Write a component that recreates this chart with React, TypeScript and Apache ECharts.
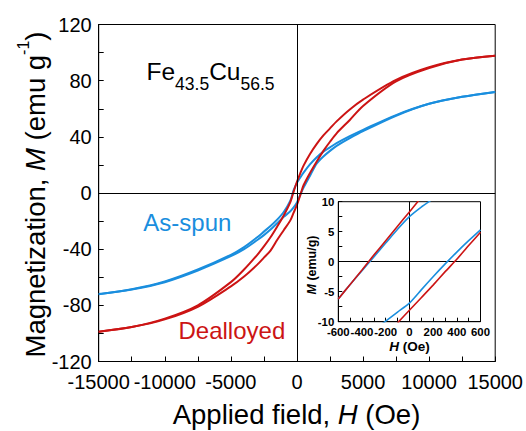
import React, { useEffect, useRef } from "react";
import * as echarts from "echarts";

// Main hysteresis loops (applied field in Oe, magnetization in emu/g)
const mainFields = [-15000, -12500, -10000, -7500, -5000, -4000, -3000, -2500, -2000, -1500, -1000, -500, -250, 0, 250, 500, 1000, 1500, 2000, 2500, 3000, 4000, 5000, 7500, 10000, 12500, 15000];
const dealloyedDown = [-98.8, -95.5, -89.5, -80, -63.5, -54.5, -44, -38, -31.5, -24, -16, -6.5, 1, 8, 14, 19.5, 28, 35, 41, 46, 51, 59.5, 66.5, 80.5, 89.5, 95, 97.8];
const dealloyedUp = [-98.8, -95.5, -90, -81, -66.5, -59.5, -51, -46, -41, -33.5, -26.5, -19.5, -14, -8.5, -1.5, 5.5, 14.5, 22.5, 30, 36.5, 42.5, 52, 62, 79.5, 89, 95, 97.8];
const asSpunDown = [-72, -68.5, -63, -54.5, -44, -38.5, -31.5, -27.5, -23.5, -19, -13.5, -5.5, 2, 7.2, 11, 14.5, 20.5, 25.5, 29.5, 32.5, 35.5, 40.5, 45, 55.5, 63.5, 68.5, 72];
const asSpunUp = [-72.2, -68.8, -63.5, -55.2, -45, -40, -33.5, -30, -26, -21.5, -17, -13, -10.3, -6.7, -1.3, 3.8, 12.5, 21, 26, 30, 33.5, 39, 44, 55, 63.5, 68.5, 72];

// Inset (low-field region)
const insetFields = [-600, -500, -400, -300, -200, -100, 0, 100, 200, 300, 400, 500, 600];
const insetRedDown = [-6.2, -3.8, -1.4, 1.1, 3.5, 5.9, 8.3, 10.7, null, null, null, null, null];
const insetRedUp = [null, null, null, null, null, -10.2, -8.1, -6.0, -3.9, -1.7, 0.4, 2.7, 4.9];
const insetBlueDown = [-6.2, -3.8, -1.5, 0.8, 3.1, 5.4, 7.5, 9.1, 10.5, null, null, null, null];
const insetBlueUp = [null, null, null, -11.4, -9.9, -8.4, -6.9, -4.7, -2.5, -0.4, 1.6, 3.5, 5.3];

const RED = "#cc1414";
const BLUE = "#1a8ede";
const FONT = "'Liberation Sans', Arial, Helvetica, sans-serif";

function pairs(xs: number[], ys: (number | null)[]) {
  const out: number[][] = [];
  xs.forEach((x, i) => {
    const y = ys[i];
    if (y !== null && y !== undefined) out.push([x, y]);
  });
  return out;
}

const zeroLines = {
  silent: true,
  symbol: ["none", "none"],
  label: { show: false },
  lineStyle: { color: "#000", width: 1, type: "solid" },
  emphasis: { disabled: true },
  data: [{ xAxis: 0 }, { yAxis: 0 }],
};

export default function App() {
  const ref = useRef<HTMLDivElement>(null);
  useEffect(() => {
    const chart = echarts.init(ref.current!, null, { renderer: "svg" });
    const axisCommon = (fontSize: number, bold: boolean, margin: number, tickLen: number, minorLen: number) => ({
      type: "value",
      axisLine: { show: true, onZero: false, lineStyle: { color: "#000", width: 1 } },
      axisTick: { show: true, inside: true, length: tickLen, lineStyle: { color: "#000", width: 1 } },
      minorTick: { show: true, splitNumber: 2, length: minorLen, lineStyle: { color: "#000", width: 1 } },
      splitLine: { show: false },
      axisLabel: {
        fontSize,
        color: "#000",
        fontFamily: FONT,
        fontWeight: bold ? "bold" : "normal",
        margin,
        showMinLabel: true,
        showMaxLabel: true,
        hideOverlap: false,
        formatter: (v: number) => String(v),
      },
    });
    const mainLine = (name: string, ys: number[], color: string) => ({
      name,
      type: "line",
      xAxisIndex: 0,
      yAxisIndex: 0,
      data: pairs(mainFields, ys),
      showSymbol: false,
      symbol: "none",
      smooth: 0.3,
      lineStyle: { color, width: 2 },
      emphasis: { disabled: true },
      silent: true,
    });
    const insetLine = (name: string, ys: (number | null)[], color: string) => ({
      name,
      type: "line",
      xAxisIndex: 1,
      yAxisIndex: 1,
      data: pairs(insetFields, ys),
      showSymbol: false,
      symbol: "none",
      smooth: 0.2,
      clip: true,
      lineStyle: { color, width: 1.6 },
      emphasis: { disabled: true },
      silent: true,
      z: 5,
    });
    chart.setOption({
      animation: false,
      backgroundColor: "#fff",
      grid: [
        { left: 98.7, right: 29.7, top: 24.5, bottom: 69.5, show: true, borderColor: "#000", borderWidth: 1 },
        { left: 338.3, right: 45.5, top: 201.7, bottom: 109.3, show: true, borderColor: "#000", borderWidth: 1, backgroundColor: "#fff", z: 4 },
      ],
      xAxis: [
        { ...axisCommon(20, false, 10, 5, 5), gridIndex: 0, min: -15000, max: 15000, interval: 5000 },
        { ...axisCommon(11.4, true, 5, 4, 4), gridIndex: 1, min: -600, max: 600, interval: 200, z: 5 },
      ],
      yAxis: [
        { ...axisCommon(20, false, 7, 5, 5), gridIndex: 0, min: -120, max: 120, interval: 40 },
        { ...axisCommon(11.4, true, 4, 4, 4), gridIndex: 1, min: -10, max: 10, interval: 5, z: 5 },
      ],
      series: [
        { ...mainLine("As-spun (down)", asSpunDown, BLUE), markLine: zeroLines },
        mainLine("As-spun (up)", asSpunUp, BLUE),
        mainLine("Dealloyed (down)", dealloyedDown, RED),
        mainLine("Dealloyed (up)", dealloyedUp, RED),
        { ...insetLine("Inset as-spun (down)", insetBlueDown, BLUE), markLine: zeroLines },
        insetLine("Inset as-spun (up)", insetBlueUp, BLUE),
        insetLine("Inset dealloyed (down)", insetRedDown, RED),
        insetLine("Inset dealloyed (up)", insetRedUp, RED),
      ],
      graphic: [
        {
          type: "text",
          x: 296.5,
          y: 414.8,
          style: {
            text: "{a|Applied field, }{i|H}{a| (Oe)}",
            align: "center",
            verticalAlign: "middle",
            fill: "#000",
            rich: {
              a: { fontSize: 27.5, fontFamily: FONT, fill: "#000" },
              i: { fontSize: 27.5, fontFamily: FONT, fontStyle: "italic", fill: "#000" },
            },
          },
        },
        {
          type: "text",
          x: 29.7,
          y: 194.5,
          rotation: Math.PI / 2,
          style: {
            text: "{a|Magnetization, }{i|M}{a| (emu g}{s|-1}{a|)}",
            align: "center",
            verticalAlign: "middle",
            fill: "#000",
            rich: {
              a: { fontSize: 27.5, lineHeight: 27.5, padding: [6, 0, 0, 0], verticalAlign: "top", fontFamily: FONT, fill: "#000" },
              i: { fontSize: 27.5, lineHeight: 27.5, padding: [6, 0, 0, 0], verticalAlign: "top", fontFamily: FONT, fontStyle: "italic", fill: "#000" },
              s: { fontSize: 16, lineHeight: 16, verticalAlign: "top", fontFamily: FONT, fill: "#000" },
            },
          },
        },
        {
          type: "text",
          x: 146.5,
          y: 59,
          style: {
            text: "{a|Fe}{b|43.5}{a|Cu}{b|56.5}",
            align: "left",
            verticalAlign: "top",
            fill: "#000",
            rich: {
              a: { fontSize: 24.5, lineHeight: 26, verticalAlign: "top", fontFamily: FONT, fill: "#000" },
              b: { fontSize: 17.5, lineHeight: 18, padding: [16, 0, 0, 0], verticalAlign: "top", fontFamily: FONT, fill: "#000" },
            },
          },
        },
        {
          type: "text",
          x: 143.3,
          y: 222.7,
          style: { text: "As-spun", fontSize: 24, fontFamily: FONT, fill: BLUE, align: "left", verticalAlign: "middle" },
        },
        {
          type: "text",
          x: 178.5,
          y: 330,
          style: { text: "Dealloyed", fontSize: 24, fontFamily: FONT, fill: RED, align: "left", verticalAlign: "middle" },
        },
        {
          type: "text",
          x: 311.6,
          y: 265,
          rotation: Math.PI / 2,
          z: 10,
          style: {
            text: "{i|M}{a| (emu/g)}",
            align: "center",
            verticalAlign: "middle",
            fill: "#000",
            rich: {
              a: { fontSize: 12.5, fontWeight: "bold", fontFamily: FONT, fill: "#000" },
              i: { fontSize: 12.5, fontWeight: "bold", fontStyle: "italic", fontFamily: FONT, fill: "#000" },
            },
          },
        },
        {
          type: "text",
          x: 409.5,
          y: 346.3,
          z: 10,
          style: {
            text: "{i|H}{a| (Oe)}",
            align: "center",
            verticalAlign: "middle",
            fill: "#000",
            rich: {
              a: { fontSize: 13.5, fontWeight: "bold", fontFamily: FONT, fill: "#000" },
              i: { fontSize: 13.5, fontWeight: "bold", fontStyle: "italic", fontFamily: FONT, fill: "#000" },
            },
          },
        },
      ],
    });
    return () => chart.dispose();
  }, []);
  return (
    <div
      ref={ref}
      style={{ position: "fixed", left: 0, top: 0, width: 526, height: 431, background: "#fff" }}
    />
  );
}
